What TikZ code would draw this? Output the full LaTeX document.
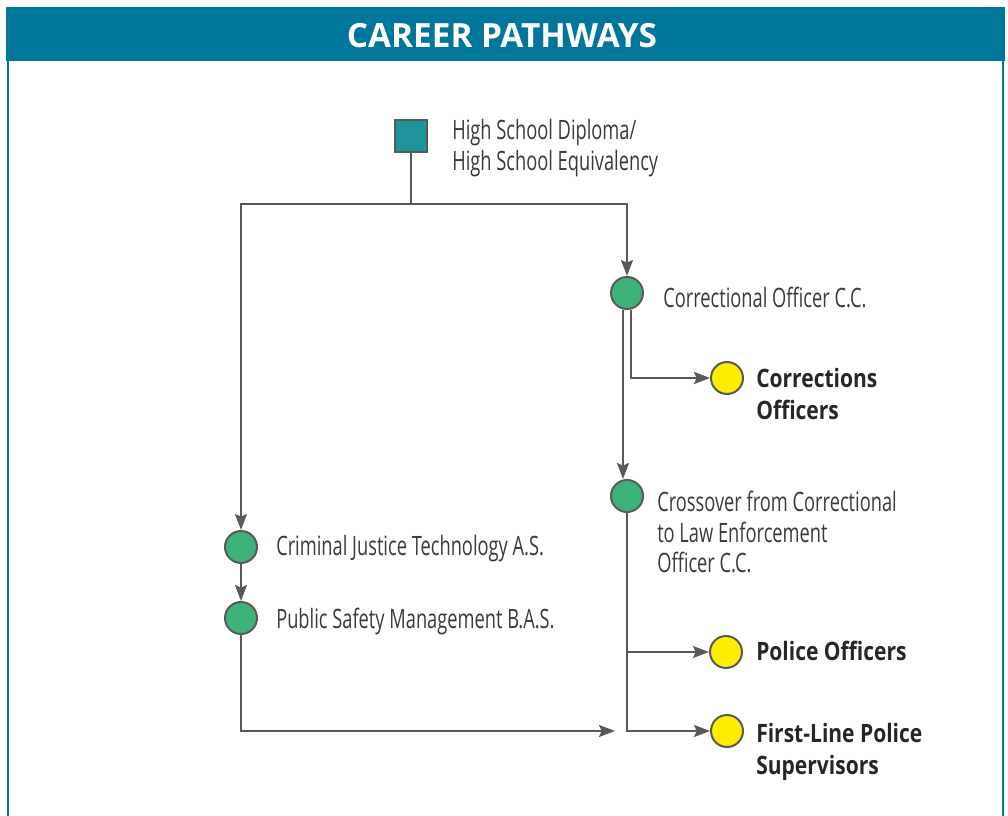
\documentclass[tikz,border=0pt]{standalone}
\usepackage{fontspec}
\usepackage{tikz}
\usetikzlibrary{arrows.meta}
\setmainfont{Open Sans}
\newfontfamily\labfont{Open Sans}[FakeStretch=0.685]
\newfontfamily\strongfont{Open Sans}[FakeStretch=0.83]
\definecolor{headblue}{HTML}{00779A}
\definecolor{squareteal}{HTML}{1E949C}
\definecolor{coursegreen}{HTML}{3DB37A}
\definecolor{jobyellow}{HTML}{FFEE00}
\definecolor{linegray}{HTML}{595959}
\definecolor{labgray}{HTML}{3A3A3A}

\begin{document}
\begin{tikzpicture}[x=0.75pt, y=-0.75pt,
    lab/.style={anchor=west, inner sep=0pt, align=left, text=labgray,
      font=\labfont\fontsize{20}{23}\selectfont},
    goal/.style={anchor=west, inner sep=0pt, align=left, text=black!85,
      font=\strongfont\bfseries\fontsize{19}{23.5}\selectfont},
    course/.style={circle, draw=linegray, line width=1.5pt, fill=coursegreen,
      minimum size=24pt, inner sep=0pt},
    job/.style={course, fill=jobyellow},
    link/.style={draw=linegray, line width=1.5pt},
    flow/.style={link, -{Stealth[length=12pt, width=9pt, inset=2pt]}}]
    \useasboundingbox (0,0) rectangle (1008,816);
    \fill[headblue] (6,7) rectangle (1005,61);
    \draw[headblue, line width=2pt] (8,61) -- (8,816) (1003,61) -- (1003,816);
    \node[text=white, font=\bfseries\fontsize{25}{28}\selectfont] (title) at (502,36) {CAREER PATHWAYS};

    \node[draw=linegray, line width=1.5pt, fill=squareteal, minimum size=24pt, inner sep=0pt] (hs) at (411,136) {};
    \node[course] (co) at (627,293) {};
    \node[course] (xo) at (627,496) {};
    \node[course] (cjt) at (241,547) {};
    \node[course] (psm) at (241,618) {};
    \node[job] (corr) at (727,378) {};
    \node[job] (pol) at (726,652) {};
    \node[job] (fl) at (727,731) {};
    \coordinate (fork) at (411,204);
    \coordinate (end) at (615,731);

    \node[lab] (hslab) at (452,148) {High School Diploma/\\High School Equivalency};
    \node[lab] (colab) at (663,297) {Correctional Officer C.C.};
    \node[lab] (xolab) at (657,532) {Crossover from Correctional\\to Law Enforcement\\Officer C.C.};
    \node[lab] (cjtlab) at (276,549) {Criminal Justice Technology A.S.};
    \node[lab] (psmlab) at (276,622) {Public Safety Management B.A.S.};
    \node[goal] (corrlab) at (756,394) {Corrections\\Officers};
    \node[goal] (pollab) at (756,651) {Police Officers};
    \node[goal] (fllab) at (756,752) {First-Line Police\\Supervisors};

    \draw[link] (hs.south) -- (fork);
    \draw[flow] (fork) -| (co.north);
    \draw[flow] (fork) -| (cjt.north);
    \draw[flow] ([xshift=-3pt]co.south) -- ([xshift=-3pt]xo.north);
    \draw[flow] ([xshift=3pt]co.south) |- (corr.west);
    \draw[flow] (xo.south) |- (pol.west);
    \draw[flow] (xo.south) |- (fl.west);
    \draw[flow] (cjt) -- (psm);
    \draw[flow] (psm.south) |- (end);
\end{tikzpicture}
\end{document}
